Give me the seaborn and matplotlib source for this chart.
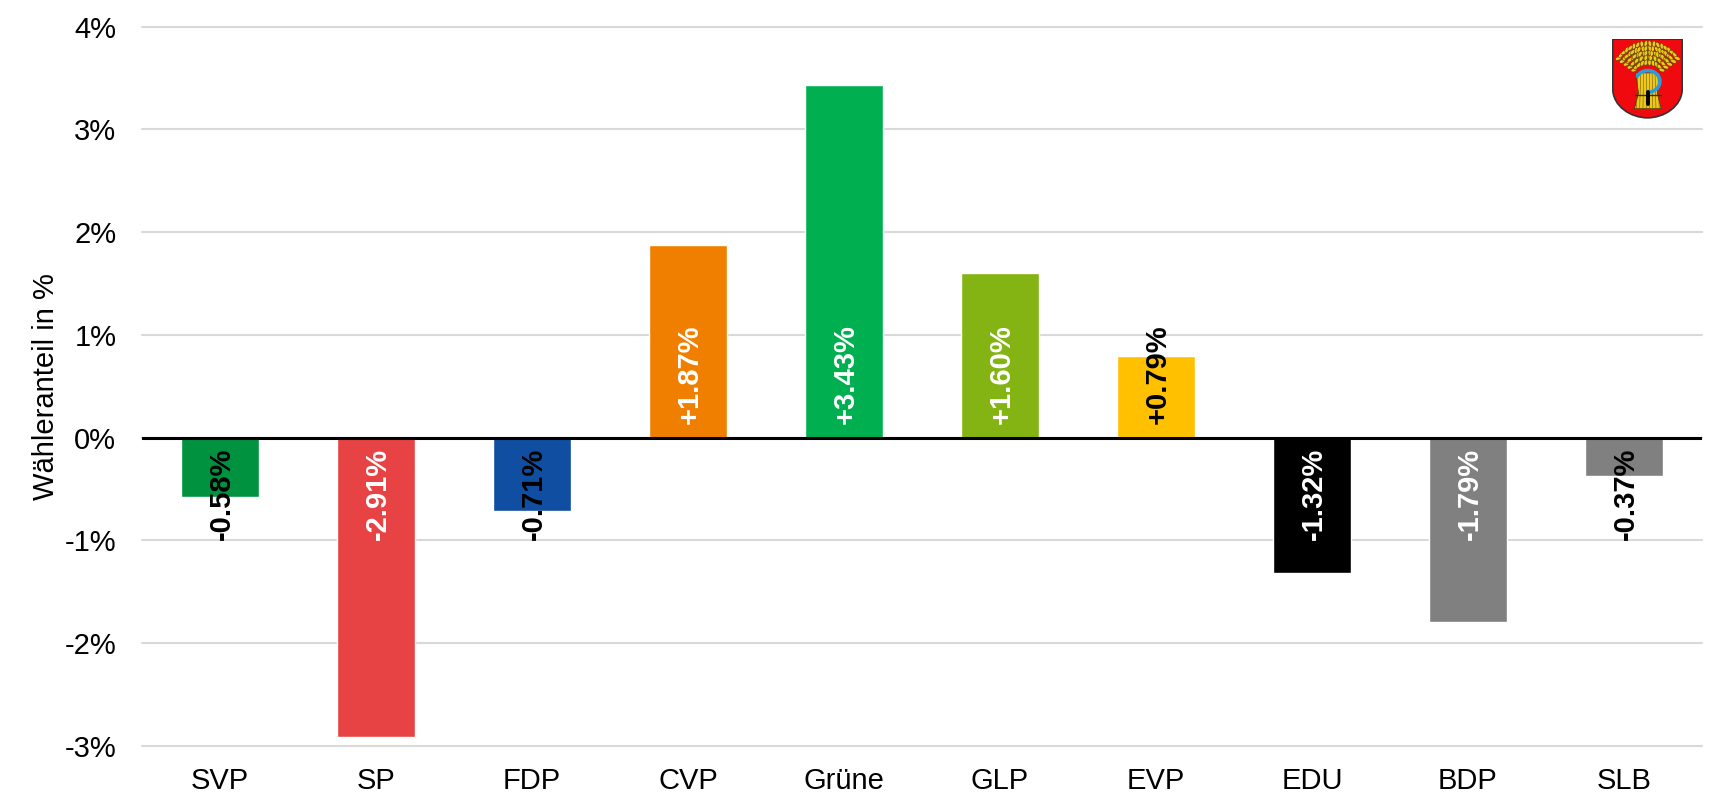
import numpy as np
import pandas as pd
import matplotlib
matplotlib.use("Agg")
import matplotlib.pyplot as plt
from matplotlib.path import Path
from matplotlib.patches import PathPatch, Polygon, Ellipse
import seaborn as sns

parties = ["SVP", "SP", "FDP", "CVP", "Grüne", "GLP", "EVP", "EDU", "BDP", "SLB"]
changes = [-0.58, -2.91, -0.71, 1.87, 3.43, 1.60, 0.79, -1.32, -1.79, -0.37]
bar_colors = ["#00923F", "#E84344", "#0F4EA0", "#F07F00", "#00B050",
              "#84B414", "#FFC000", "#000000", "#808080", "#808080"]
label_colors = ["black", "white", "black", "white", "white",
                "white", "black", "white", "white", "black"]
y_ticks = [-3, -2, -1, 0, 1, 2, 3, 4]
y_title = "Wähleranteil in %"

sns.set_theme(style="white")
plt.rcParams["font.family"] = ["Liberation Sans", "DejaVu Sans"]

W, H = 1725, 810
fig = plt.figure(figsize=(W / 100, H / 100), dpi=100, facecolor="white")
ax = fig.add_axes([142 / W, 1 - 746 / H, (1702 - 142) / W, (746 - 26.5) / H])

df = pd.DataFrame({"party": parties, "change": changes})
sns.barplot(data=df, x="party", y="change", hue="party", palette=bar_colors,
            order=parties, hue_order=parties, dodge=False, width=0.505,
            saturation=1, legend=False, ax=ax, zorder=3)

ax.set_xlim(-0.5, 9.5)
ax.set_ylim(-3, 4)
ax.set_yticks(y_ticks)
ax.set_yticklabels([f"{t}%" for t in y_ticks])
ax.set_xlabel("")
ax.set_ylabel(y_title, fontsize=21, color="black", labelpad=0)
ax.yaxis.set_label_coords((60 - 142) / (1702 - 142), 0.5)
ax.tick_params(axis="y", length=0, pad=18.5, labelsize=21, labelcolor="black")
ax.tick_params(axis="x", length=0, pad=15, labelsize=21, labelcolor="black")
ax.yaxis.grid(True, color="#D9D9D9", linewidth=1.5, zorder=0)
ax.xaxis.grid(False)
ax.set_axisbelow(True)
for s in ax.spines.values():
    s.set_visible(False)
for gl in ax.get_ygridlines():
    gl.set_clip_on(False)
ax.axhline(0, color="black", linewidth=2.2, zorder=4)

for i, (v, c) in enumerate(zip(changes, label_colors)):
    ax.annotate(f"{v:+.2f}%", xy=(i, 0), xytext=(1.2, 10 if v > 0 else -7.5),
                textcoords="offset points", rotation=90, ha="center",
                va="bottom" if v > 0 else "top", fontsize=21,
                fontweight="bold", color=c, zorder=5)

# municipal coat of arms (decoration, top right)
crest = fig.add_axes([1612 / W, 1 - 118.5 / H, 71 / W, 80 / H], zorder=6)
crest.set_xlim(155, 367)
crest.set_ylim(325, 88)
crest.axis("off")
shield = Path(
    [(157, 90), (365, 90), (365, 235), (365, 290), (310, 323), (261, 323),
     (212, 323), (157, 290), (157, 235), (157, 90)],
    [Path.MOVETO, Path.LINETO, Path.LINETO, Path.CURVE4, Path.CURVE4, Path.CURVE4,
     Path.CURVE4, Path.CURVE4, Path.CURVE4, Path.CLOSEPOLY])
crest.add_patch(PathPatch(shield, facecolor="#F00A0F", edgecolor="#333333", linewidth=1.2))

wheat = "#EFC81E"
for ang in [-52, -39, -26, -13, 0, 13, 26, 39, 52]:
    a = np.radians(ang)
    for r in np.arange(46, 112, 14):
        for side in (-1, 1):
            px = 262 + r * np.sin(a) * 1.05 + side * 6 * np.cos(a)
            py = 205 - r * np.cos(a) + side * 6 * np.sin(a)
            crest.add_patch(Ellipse((px, py), 10, 18, angle=-ang - side * 16,
                                    facecolor=wheat, edgecolor="#4a3c00",
                                    linewidth=0.35, zorder=3))
crest.add_patch(Polygon([(226, 190), (298, 190), (290, 250), (302, 296), (222, 296), (234, 250)],
                        closed=True, facecolor=wheat, edgecolor="#333300", linewidth=0.5, zorder=4))
for x0, x1 in zip(np.linspace(232, 292, 8), np.linspace(228, 296, 8)):
    crest.plot([x0, x1], [192, 294], color="#6b5a00", lw=0.4, zorder=5)
crest.plot([224, 300], [255, 255], color="#333300", lw=1.0, zorder=6)
t = np.linspace(np.radians(-150), np.radians(90), 60)
crest.plot(262 + 36 * np.cos(t), 215 + 32 * np.sin(t), color="#2E9BD6", lw=2.6,
           solid_capstyle="round", zorder=7)
crest.plot([262, 262], [247, 282], color="black", lw=2.8, zorder=8)

fig.savefig("out.png", dpi=100, facecolor="white")
